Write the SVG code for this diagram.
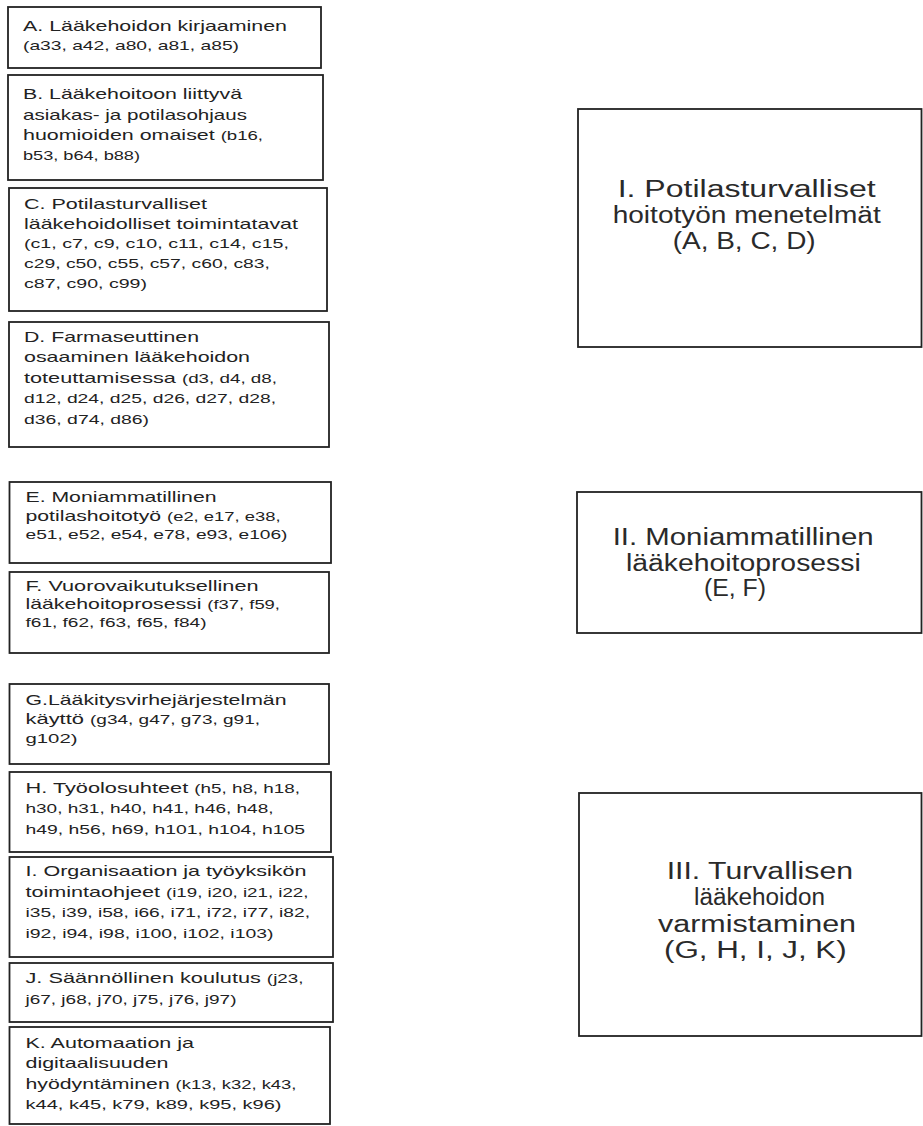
<svg xmlns="http://www.w3.org/2000/svg" width="923" height="1126" viewBox="0 0 923 1126">
<style>
.box{fill:#fff;stroke:#222;stroke-width:1.8}
text{font-family:"Liberation Sans",Arial,sans-serif;fill:#222}
.t{font-size:15px}
.c{font-size:13px}
.r{font-size:23.5px;fill:#2a2a2a}
</style>
<rect width="923" height="1126" fill="#fff"/>
<g id="connectors"></g>
<g id="nodeA">
<rect class="box" x="8" y="7" width="313" height="61"/>
<text class="t" x="23" y="31" textLength="264" lengthAdjust="spacingAndGlyphs">A. Lääkehoidon kirjaaminen</text>
<text class="c" x="23" y="49.5" textLength="216" lengthAdjust="spacingAndGlyphs">(a33, a42, a80, a81, a85)</text>
</g>
<g id="nodeB">
<rect class="box" x="8" y="75" width="315" height="105"/>
<text class="t" x="23" y="99" textLength="219" lengthAdjust="spacingAndGlyphs">B. Lääkehoitoon liittyvä</text>
<text class="t" x="23" y="120" textLength="224" lengthAdjust="spacingAndGlyphs">asiakas- ja potilasohjaus</text>
<text class="t" x="23" y="140" textLength="240" lengthAdjust="spacingAndGlyphs">huomioiden omaiset <tspan class="c">(b16,</tspan></text>
<text class="c" x="23" y="160" textLength="117" lengthAdjust="spacingAndGlyphs">b53, b64, b88)</text>
</g>
<g id="nodeC">
<rect class="box" x="9" y="188" width="318" height="123"/>
<text class="t" x="24" y="208.5" textLength="183" lengthAdjust="spacingAndGlyphs">C. Potilasturvalliset</text>
<text class="t" x="24" y="228.5" textLength="274" lengthAdjust="spacingAndGlyphs">lääkehoidolliset toimintatavat</text>
<text class="c" x="24" y="248" textLength="265" lengthAdjust="spacingAndGlyphs">(c1, c7, c9, c10, c11, c14, c15,</text>
<text class="c" x="24" y="268" textLength="246" lengthAdjust="spacingAndGlyphs">c29, c50, c55, c57, c60, c83,</text>
<text class="c" x="24" y="288" textLength="123" lengthAdjust="spacingAndGlyphs">c87, c90, c99)</text>
</g>
<g id="nodeD">
<rect class="box" x="9" y="322" width="320" height="125"/>
<text class="t" x="24" y="342" textLength="175" lengthAdjust="spacingAndGlyphs">D. Farmaseuttinen</text>
<text class="t" x="24" y="362" textLength="226" lengthAdjust="spacingAndGlyphs">osaaminen lääkehoidon</text>
<text class="t" x="24" y="382.5" textLength="253" lengthAdjust="spacingAndGlyphs">toteuttamisessa <tspan class="c">(d3, d4, d8,</tspan></text>
<text class="c" x="24" y="403" textLength="252" lengthAdjust="spacingAndGlyphs">d12, d24, d25, d26, d27, d28,</text>
<text class="c" x="24" y="423.5" textLength="125" lengthAdjust="spacingAndGlyphs">d36, d74, d86)</text>
</g>
<g id="nodeE">
<rect class="box" x="9.5" y="482" width="321.5" height="81"/>
<text class="t" x="25.5" y="502" textLength="191" lengthAdjust="spacingAndGlyphs">E. Moniammatillinen</text>
<text class="t" x="25.5" y="520.5" textLength="255" lengthAdjust="spacingAndGlyphs">potilashoitotyö <tspan class="c">(e2, e17, e38,</tspan></text>
<text class="c" x="25.5" y="539" textLength="262" lengthAdjust="spacingAndGlyphs">e51, e52, e54, e78, e93, e106)</text>
</g>
<g id="nodeF">
<rect class="box" x="9.5" y="572" width="319.5" height="81"/>
<text class="t" x="25.5" y="590.5" textLength="233" lengthAdjust="spacingAndGlyphs">F. Vuorovaikutuksellinen</text>
<text class="t" x="25.5" y="609" textLength="254.5" lengthAdjust="spacingAndGlyphs">lääkehoitoprosessi <tspan class="c">(f37, f59,</tspan></text>
<text class="c" x="25.5" y="627" textLength="181" lengthAdjust="spacingAndGlyphs">f61, f62, f63, f65, f84)</text>
</g>
<g id="nodeG">
<rect class="box" x="9.5" y="684" width="319.5" height="80"/>
<text class="t" x="25.5" y="704.5" textLength="261" lengthAdjust="spacingAndGlyphs">G.Lääkitysvirhejärjestelmän</text>
<text class="t" x="25.5" y="723.5" textLength="234.5" lengthAdjust="spacingAndGlyphs">käyttö <tspan class="c">(g34, g47, g73, g91,</tspan></text>
<text class="c" x="25.5" y="742.5" textLength="52" lengthAdjust="spacingAndGlyphs">g102)</text>
</g>
<g id="nodeH">
<rect class="box" x="9.5" y="772" width="321.5" height="80"/>
<text class="t" x="25.5" y="793" textLength="274.5" lengthAdjust="spacingAndGlyphs">H. Työolosuhteet <tspan class="c">(h5, h8, h18,</tspan></text>
<text class="c" x="25.5" y="813" textLength="248" lengthAdjust="spacingAndGlyphs">h30, h31, h40, h41, h46, h48,</text>
<text class="c" x="25.5" y="833.5" textLength="279.5" lengthAdjust="spacingAndGlyphs">h49, h56, h69, h101, h104, h105</text>
</g>
<g id="nodeI">
<rect class="box" x="9.5" y="857" width="323.5" height="100"/>
<text class="t" x="25.5" y="876" textLength="281" lengthAdjust="spacingAndGlyphs">I. Organisaation ja työyksikön</text>
<text class="t" x="25.5" y="896.5" textLength="283" lengthAdjust="spacingAndGlyphs">toimintaohjeet <tspan class="c">(i19, i20, i21, i22,</tspan></text>
<text class="c" x="25.5" y="917" textLength="284.5" lengthAdjust="spacingAndGlyphs">i35, i39, i58, i66, i71, i72, i77, i82,</text>
<text class="c" x="25.5" y="938" textLength="248" lengthAdjust="spacingAndGlyphs">i92, i94, i98, i100, i102, i103)</text>
</g>
<g id="nodeJ">
<rect class="box" x="9.5" y="963" width="323.5" height="59"/>
<text class="t" x="25.5" y="983" textLength="278" lengthAdjust="spacingAndGlyphs">J. Säännöllinen koulutus <tspan class="c">(j23,</tspan></text>
<text class="c" x="25.5" y="1003.5" textLength="211" lengthAdjust="spacingAndGlyphs">j67, j68, j70, j75, j76, j97)</text>
</g>
<g id="nodeK">
<rect class="box" x="9.5" y="1027" width="320.5" height="97"/>
<text class="t" x="25.5" y="1047.5" textLength="168.5" lengthAdjust="spacingAndGlyphs">K. Automaation ja</text>
<text class="t" x="25.5" y="1068" textLength="143" lengthAdjust="spacingAndGlyphs">digitaalisuuden</text>
<text class="t" x="25.5" y="1089" textLength="271" lengthAdjust="spacingAndGlyphs">hyödyntäminen <tspan class="c">(k13, k32, k43,</tspan></text>
<text class="c" x="25.5" y="1108.5" textLength="256" lengthAdjust="spacingAndGlyphs">k44, k45, k79, k89, k95, k96)</text>
</g>
<g id="nodeI-main">
<rect class="box" x="578" y="109" width="343.5" height="238"/>
<text class="r" x="617.7" y="197" textLength="258" lengthAdjust="spacingAndGlyphs">I. Potilasturvalliset</text>
<text class="r" x="612.7" y="223" textLength="268" lengthAdjust="spacingAndGlyphs">hoitotyön menetelmät</text>
<text class="r" x="672.7" y="249" textLength="143" lengthAdjust="spacingAndGlyphs">(A, B, C, D)</text>
</g>
<g id="nodeII-main">
<rect class="box" x="577" y="492" width="344.5" height="141"/>
<text class="r" x="612.7" y="544.5" textLength="261" lengthAdjust="spacingAndGlyphs">II. Moniammatillinen</text>
<text class="r" x="626" y="570.5" textLength="234.7" lengthAdjust="spacingAndGlyphs">lääkehoitoprosessi</text>
<text class="r" x="704" y="596" textLength="62" lengthAdjust="spacingAndGlyphs">(E, F)</text>
</g>
<g id="nodeIII-main">
<rect class="box" x="579" y="793" width="342.5" height="243"/>
<text class="r" x="666.7" y="878.5" textLength="186.3" lengthAdjust="spacingAndGlyphs">III. Turvallisen</text>
<text class="r" x="694" y="905" textLength="131" lengthAdjust="spacingAndGlyphs">lääkehoidon</text>
<text class="r" x="658" y="931.5" textLength="198" lengthAdjust="spacingAndGlyphs">varmistaminen</text>
<text class="r" x="664" y="958" textLength="182.7" lengthAdjust="spacingAndGlyphs">(G, H, I, J, K)</text>
</g>
</svg>
